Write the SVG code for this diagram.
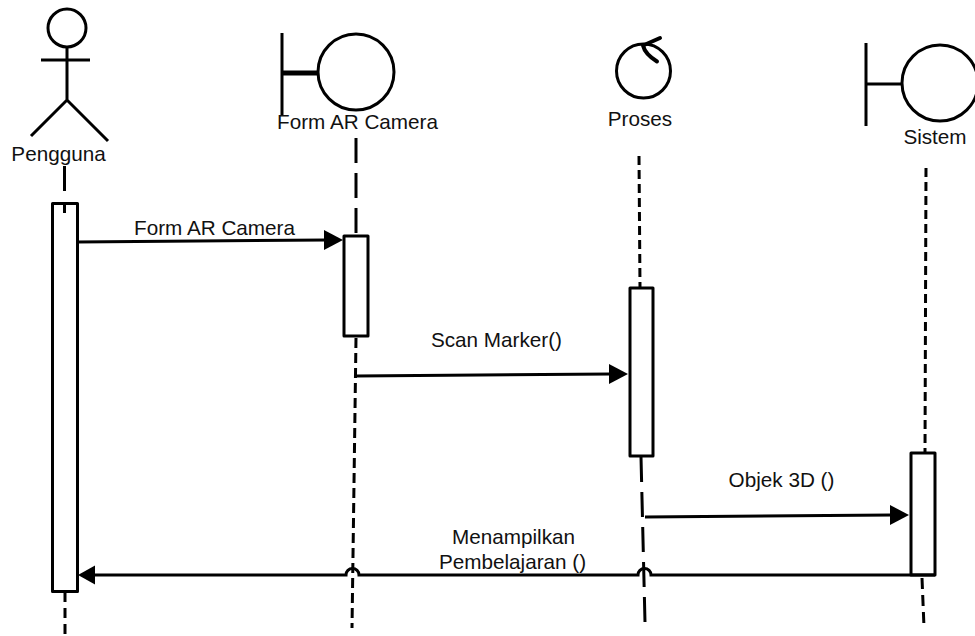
<svg xmlns="http://www.w3.org/2000/svg" width="975" height="636" viewBox="0 0 975 636">
<style>
.l{fill:none;stroke:#000;stroke-width:3}
.b{fill:#fff;stroke:#000;stroke-width:3;stroke-linejoin:round}
.h{fill:#000;stroke:none}
text{font-family:"Liberation Sans",Arial,sans-serif;font-size:20.700px;fill:#111;text-anchor:middle}
</style>
<rect width="975" height="636" fill="#fff"/>
<g id="lifelines">
<path class="l" d="M64.500 166V191"/>
<path class="l" d="M65 592V636" stroke-dasharray="10 6"/>
<path class="l" d="M356 138V235" stroke-dasharray="25 10"/>
<path class="l" d="M356 338L352 628" stroke-dasharray="10 5"/>
<path class="l" d="M639 156L640 287" stroke-dasharray="9 5"/>
<path class="l" d="M641 457L645 622" stroke-dasharray="25 10"/>
<path class="l" d="M926 168L925 452" stroke-dasharray="9 5"/>
<path class="l" d="M922 578L924 627" stroke-dasharray="11 6"/>
</g>
<g id="pengguna">
<circle class="l" cx="67" cy="28" r="19"/>
<path class="l" d="M67 47V100M41 60H90M31 136L67 100L108 141"/>
<text x="58.500" y="161">Pengguna</text>
<rect class="b" x="52.500" y="203.500" width="25" height="388"/>
<path class="l" d="M64.500 202V213"/>
</g>
<g id="form-ar-camera">
<path class="l" d="M282 33V115"/>
<path class="l" style="stroke-width:5" d="M282 73H318"/>
<circle class="l" cx="356" cy="72" r="38"/>
<text x="357.500" y="129">Form AR Camera</text>
<rect class="b" x="344" y="236" width="24" height="100"/>
</g>
<g id="proses">
<circle class="l" cx="643.500" cy="71" r="27"/>
<path class="l" style="stroke-width:4" stroke-linejoin="round" stroke-linecap="round" d="M660 38L643 45.500Q645 54 657 61.500"/>
<text x="640" y="126">Proses</text>
<rect class="b" x="630" y="288" width="23" height="168"/>
</g>
<g id="sistem">
<path class="l" d="M866 43V126M866 84H902"/>
<circle class="l" cx="940" cy="83" r="38"/>
<text x="935" y="144">Sistem</text>
<rect class="b" x="911" y="453" width="24" height="122"/>
</g>
<g id="connectors">
<path class="l" d="M77 242L326 240"/>
<polygon class="h" points="343,240 324,230 324,250"/>
<text x="214.500" y="235">Form AR Camera</text>
<path class="l" d="M356 376L611 374"/>
<polygon class="h" points="628,374 609,364 609,384"/>
<text x="496.500" y="347">Scan Marker()</text>
<path class="l" d="M645 517L892 515"/>
<polygon class="h" points="909,515 890,505 890,525"/>
<text x="781.500" y="487">Objek 3D ()</text>
<path class="l" d="M935 575H651A6.500 6.500 0 0 0 638 575H359A6.500 6.500 0 0 0 346 575H94"/>
<polygon class="h" points="78,575 95,565.500 95,584.500"/>
<text x="513.500" y="544">Menampilkan</text>
<text x="512.500" y="569">Pembelajaran ()</text>
</g>
</svg>
